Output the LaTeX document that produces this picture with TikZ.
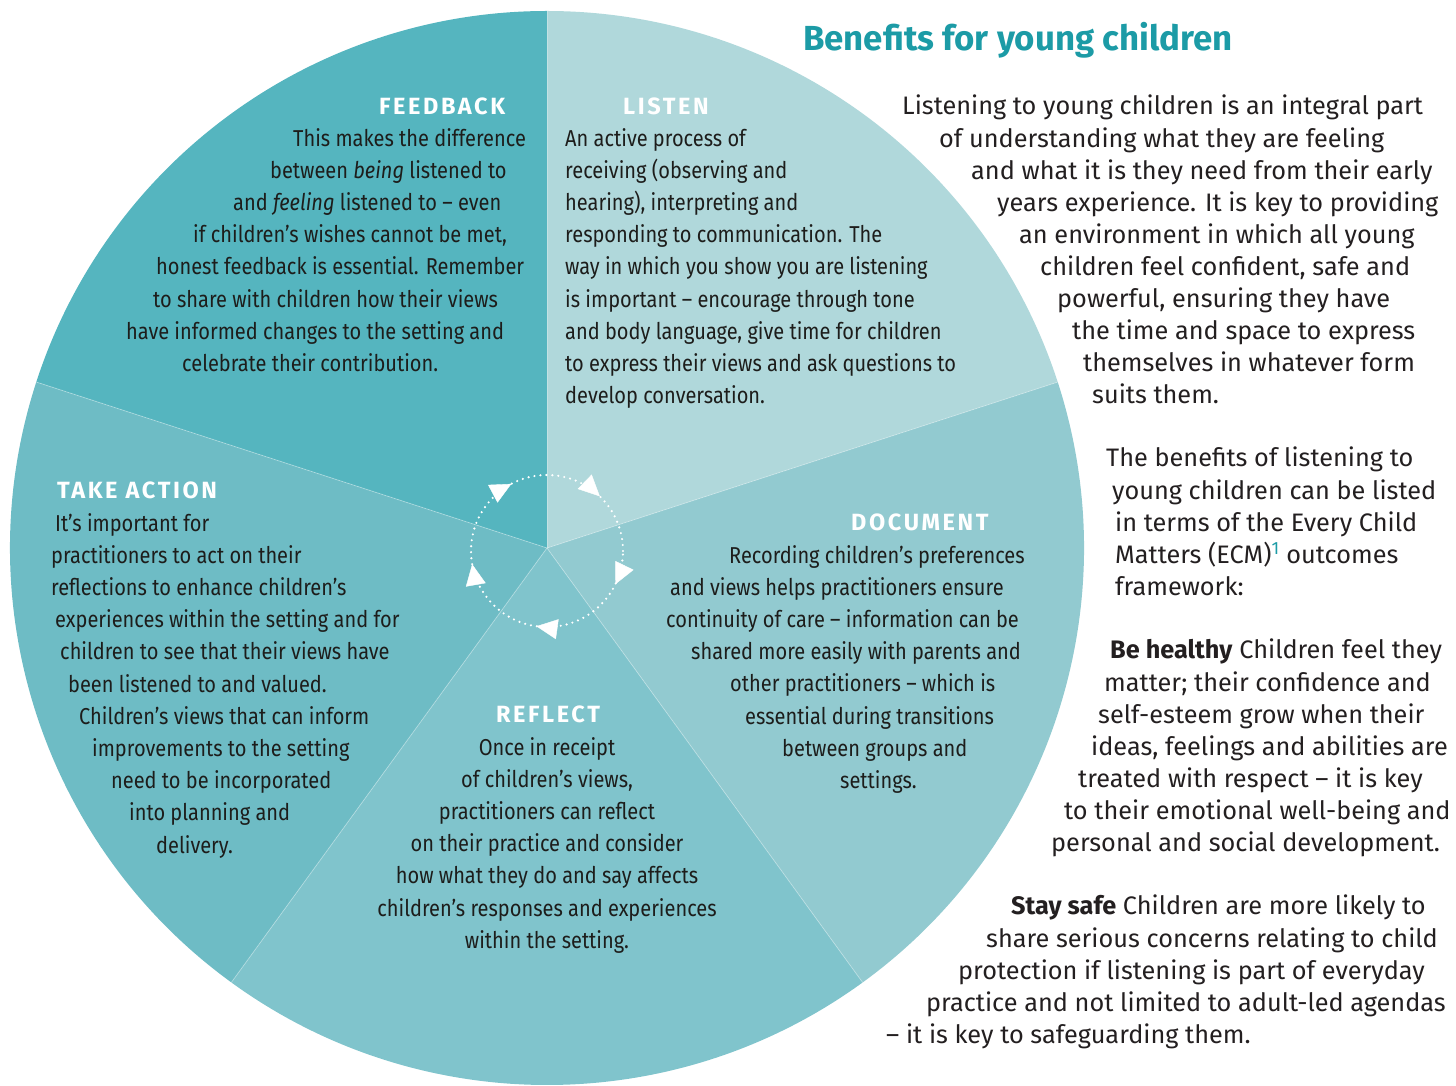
\documentclass[tikz,border=0pt]{standalone}
\usepackage{fontspec}
\usepackage{tikz}
\usetikzlibrary{arrows.meta, calc}

\setmainfont{Fira Sans}
\newfontfamily\bodyfont[FakeStretch=0.87]{Fira Sans}
\newfontfamily\headfont[LetterSpace=11]{Fira Sans}

\definecolor{feedbackcol}{HTML}{55B5BF}
\definecolor{listencol}{HTML}{B0D8DB}
\definecolor{actioncol}{HTML}{6EBCC5}
\definecolor{reflectcol}{HTML}{80C4CC}
\definecolor{documentcol}{HTML}{92CAD0}
\definecolor{titlecol}{HTML}{1C9BA6}
\definecolor{textcol}{HTML}{1D1D1B}
\definecolor{sidecol}{HTML}{231F20}

\begin{document}
\begin{tikzpicture}[
    x=1pt, y=1pt,
    divider/.style={draw=white, draw opacity=0.35, line width=0.8pt},
    heading/.style={inner sep=0pt, anchor=west, text=white, font=\headfont\bfseries\fontsize{23.5}{28}\selectfont},
    bodytext/.style={inner sep=0pt, anchor=north west, align=left, text=textcol, font=\bodyfont\fontsize{23}{32.2}\selectfont},
    sidetext/.style={inner sep=0pt, anchor=north west, align=left, text=sidecol, font=\fontsize{25.3}{32.1}\selectfont},
    cycletip/.style={draw=white, line width=0.4pt, -{Triangle[length=21pt, width=20pt, fill=white]}}
]
\useasboundingbox (0,0) rectangle (1456,1085);

% The wheel
\coordinate (C) at (547,537);
\foreach \s/\col in {18/listencol, -54/documentcol, -126/reflectcol, 162/actioncol, 90/feedbackcol}
    \fill[\col] (C) -- ++(\s:537) arc[start angle=\s, end angle=\s+72, radius=537] -- cycle;
\foreach \s in {90, 18, -54, -126, 162}
    \draw[divider] (C) -- ++(\s:537);

% Cycle in the middle
\draw[white, line width=2.4pt, dash pattern=on 0pt off 6pt, line cap=round] ($(C)+(0,-3)$) circle (76);
\foreach \a in {54, -18, -90, -162, 126}
    \draw[cycletip] ($(C)+(0,-3)+(\a+8:76)$) arc[start angle=\a+8, end angle=\a-8, radius=76];

% Headings
\node[heading] (feedbackhead) at (379,979) {FEEDBACK};
\node[heading] (listenhead) at (623,979) {LISTEN};
\node[heading] (actionhead) at (57,595) {TAKE ACTION};
\node[heading] (documenthead) at (851,563) {DOCUMENT};
\node[heading, anchor=center] (reflecthead) at (548,371) {REFLECT};

% Sector texts
\node[bodytext] (feedback) at (126,957) {%
    \hspace*{167pt}This makes the difference\\
    \hspace*{144pt}between \emph{being} listened to\\
    \hspace*{107pt}and \emph{feeling} listened to – even\\
    \hspace*{67pt}if children’s wishes cannot be met,\\
    \hspace*{30pt}honest feedback is essential. Remember\\
    \hspace*{27pt}to share with children how their views\\
    have informed changes to the setting and\\
    \hspace*{56pt}celebrate their contribution.};

\node[bodytext] (listen) at (565,957) {%
    An active process of\\
    receiving (observing and\\
    hearing), interpreting and\\
    responding to communication. The\\
    way in which you show you are listening\\
    is important – encourage through tone\\
    and body language, give time for children\\
    to express their views and ask questions to\\
    develop conversation.};

\node[bodytext] (action) at (51,572) {%
    \hspace*{4pt}It’s important for\\
    practitioners to act on their\\
    reflections to enhance children’s\\
    \hspace*{4pt}experiences within the setting and for\\
    \hspace*{9pt}children to see that their views have\\
    \hspace*{17pt}been listened to and valued.\\
    \hspace*{28pt}Children’s views that can inform\\
    \hspace*{41pt}improvements to the setting\\
    \hspace*{60pt}need to be incorporated\\
    \hspace*{78pt}into planning and\\
    \hspace*{105pt}delivery.};

\node[bodytext] (document) at (666,540) {%
    \hspace*{63pt}Recording children’s preferences\\
    \hspace*{4pt}and views helps practitioners ensure\\
    continuity of care – information can be\\
    \hspace*{25pt}shared more easily with parents and\\
    \hspace*{64pt}other practitioners – which is\\
    \hspace*{79pt}essential during transitions\\
    \hspace*{116pt}between groups and\\
    \hspace*{174pt}settings.};

\node[bodytext, anchor=north, align=center] (reflect) at (547,348) {%
    Once in receipt\\
    of children’s views,\\
    practitioners can reflect\\
    on their practice and consider\\
    how what they do and say affects\\
    children’s responses and experiences\\
    within the setting.};

% Side column
\node[inner sep=0pt, anchor=base west, text=titlecol, font=\bfseries\fontsize{34.8}{40}\selectfont] (title) at (803,1034) {Benefits for young children};

\node[sidetext] (intro) at (902,990) {%
    Listening to young children is an integral part\\
    \hspace*{37pt}of understanding what they are feeling\\
    \hspace*{69pt}and what it is they need from their early\\
    \hspace*{95pt}years experience. It is key to providing\\
    \hspace*{117pt}an environment in which all young\\
    \hspace*{138pt}children feel confident, safe and\\
    \hspace*{155pt}powerful, ensuring they have\\
    \hspace*{170pt}the time and space to express\\
    \hspace*{181pt}themselves in whatever form\\
    \hspace*{190pt}suits them.};

\node[sidetext] (ecm) at (1106,638) {%
    The benefits of listening to\\
    \hspace*{6pt}young children can be listed\\
    \hspace*{9pt}in terms of the Every Child\\
    \hspace*{9pt}Matters (ECM)\textsuperscript{\color{titlecol}1} outcomes\\
    \hspace*{9pt}framework:};

\node[sidetext] (healthy) at (1051,446) {%
    \hspace*{59pt}\textbf{Be healthy} Children feel they\\
    \hspace*{53pt}matter; their confidence and\\
    \hspace*{47pt}self-esteem grow when their\\
    \hspace*{40pt}ideas, feelings and abilities are\\
    \hspace*{27pt}treated with respect – it is key\\
    \hspace*{13pt}to their emotional well-being and\\
    personal and social development.};

\node[sidetext] (safe) at (886,190) {%
    \hspace*{125pt}\textbf{Stay safe} Children are more likely to\\
    \hspace*{100pt}share serious concerns relating to child\\
    \hspace*{72pt}protection if listening is part of everyday\\
    \hspace*{40pt}practice and not limited to adult-led agendas\\
    – it is key to safeguarding them.};

\end{tikzpicture}
\end{document}
